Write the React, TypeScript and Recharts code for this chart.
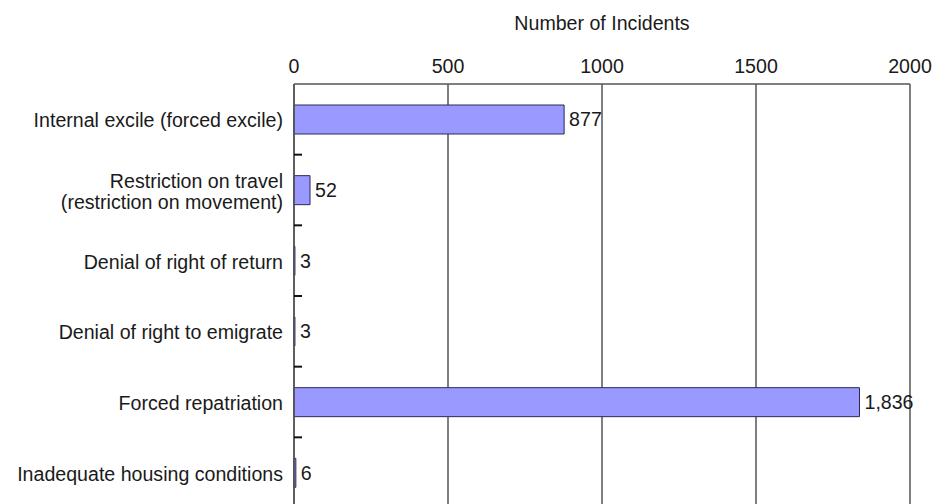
import React from 'react';
import { BarChart, Bar, XAxis, YAxis, CartesianGrid, LabelList, Label } from 'recharts';

const categories = [
  'Internal excile (forced excile)',
  'Restriction on travel\n(restriction on movement)',
  'Denial of right of return',
  'Denial of right to emigrate',
  'Forced repatriation',
  'Inadequate housing conditions',
];
const incidents = [877, 52, 3, 3, 1836, 6];
const xTicks = [0, 500, 1000, 1500, 2000];
const axisTitle = 'Number of Incidents';

const data = categories.map((name, i) => ({ name, value: incidents[i] }));

const FONT = '"Liberation Sans", Arial, Helvetica, sans-serif';
const TEXT = '#1a1a1a';
const LINE = '#555555';
const FS = 19.6;
const CHART_H = 512;
const MARGIN = { top: 0, right: 22, bottom: 4, left: 0 };
const X_AXIS_H = 84;
const Y_AXIS_W = 294;
const TICK_MARGIN = 11;

const CategoryTick = (props: any) => {
  const { x, y, payload, index } = props;
  const lines = String(payload.value).split('\n');
  const lh = 21;
  const startDy = -((lines.length - 1) * lh) / 2 + 8;
  const plotH = CHART_H - MARGIN.top - MARGIN.bottom - X_AXIS_H;
  const half =
    payload && typeof payload.offset === 'number' && payload.offset > 0
      ? payload.offset
      : plotH / categories.length / 2;
  const axisX = x + TICK_MARGIN;
  const isLast = index === categories.length - 1;
  return (
    <g>
      <text x={x} y={y} textAnchor="end" fill={TEXT} fontSize={FS} fontFamily={FONT}>
        {lines.map((l, i) => (
          <tspan key={i} x={x} dy={i === 0 ? startDy : lh}>
            {l}
          </tspan>
        ))}
      </text>
      {!isLast && (
        <line
          x1={axisX}
          x2={axisX + 8}
          y1={y + half}
          y2={y + half}
          stroke="#111111"
          strokeWidth={2}
        />
      )}
    </g>
  );
};

export default function App() {
  return (
    <div style={{ position: 'absolute', left: 0, top: 0 }}>
      <BarChart
        width={932}
        height={CHART_H}
        data={data}
        layout="vertical"
        margin={MARGIN}
        style={{ fontFamily: FONT }}
      >
        <CartesianGrid horizontal={false} vertical stroke={LINE} strokeWidth={1.5} />
        <XAxis
          type="number"
          orientation="top"
          domain={[0, 2000]}
          ticks={xTicks}
          interval={0}
          height={X_AXIS_H}
          tickLine={false}
          tickSize={0}
          tickMargin={11}
          axisLine={{ stroke: LINE, strokeWidth: 1.5 }}
          tick={{ fontSize: FS, fill: TEXT, fontFamily: FONT }}
        >
          <Label
            value={axisTitle}
            position="insideTop"
            offset={16}
            fontSize={FS}
            fill={TEXT}
            fontFamily={FONT}
          />
        </XAxis>
        <YAxis
          type="category"
          dataKey="name"
          width={Y_AXIS_W}
          interval={0}
          tickLine={false}
          tickSize={0}
          tickMargin={TICK_MARGIN}
          axisLine={{ stroke: LINE, strokeWidth: 1.5 }}
          tick={<CategoryTick />}
        />
        <Bar
          dataKey="value"
          fill="#9999FF"
          stroke="#2a2a55"
          strokeWidth={1}
          barSize={29}
          isAnimationActive={false}
        >
          <LabelList
            dataKey="value"
            position="right"
            offset={5}
            formatter={(v: any) => Number(v).toLocaleString('en-US')}
            fontSize={FS}
            fill={TEXT}
            fontFamily={FONT}
          />
        </Bar>
      </BarChart>
    </div>
  );
}
